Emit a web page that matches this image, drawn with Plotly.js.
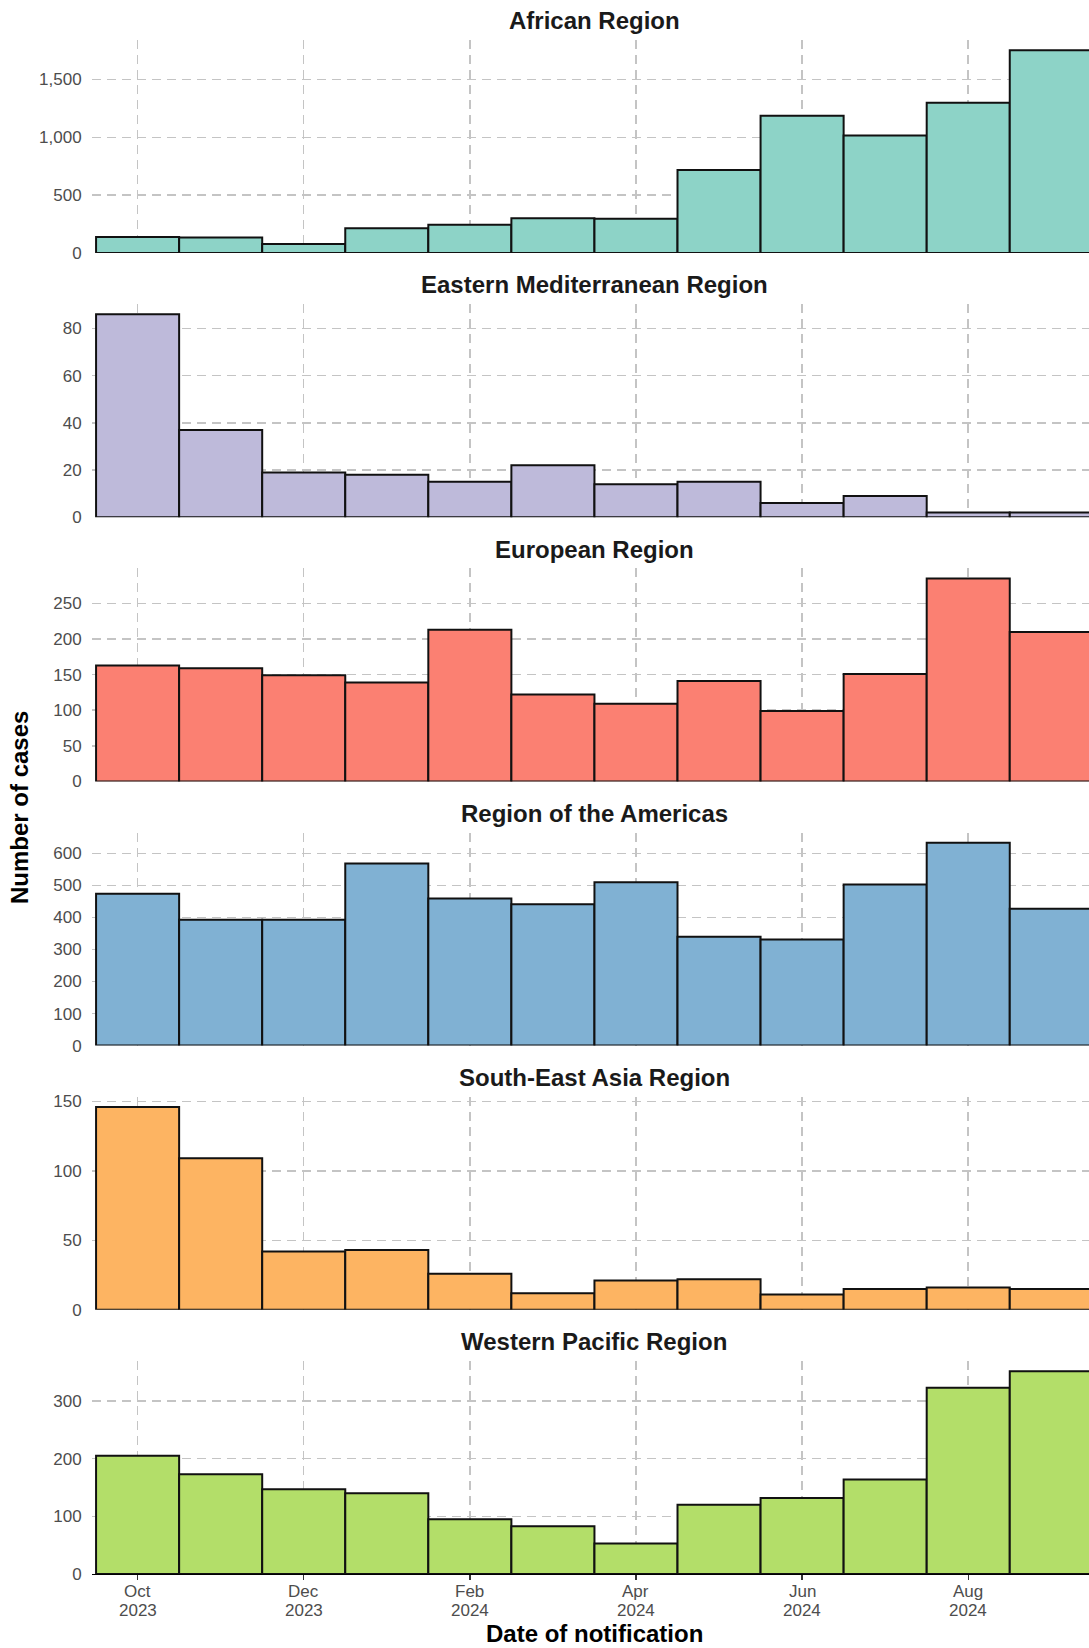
<!DOCTYPE html>
<html>
<head>
<meta charset="utf-8">
<script src="https://cdn.plot.ly/plotly-3.0.1.min.js"></script>
<style>
  html, body { margin: 0; padding: 0; background: #ffffff; }
  #chart { width: 1089px; height: 1648px; }
</style>
</head>
<body>
<div id="chart"></div>
<script>
// ---- Data ----
const months = ['Oct 2023','Nov 2023','Dec 2023','Jan 2024','Feb 2024','Mar 2024','Apr 2024','May 2024','Jun 2024','Jul 2024','Aug 2024','Sep 2024'];
const tickMonths = ['Oct 2023','Dec 2023','Feb 2024','Apr 2024','Jun 2024','Aug 2024'];
const tickMonthLabels = ['Oct','Dec','Feb','Apr','Jun','Aug'];
const tickYearLabels = ['2023','2023','2024','2024','2024','2024'];
const regions = ['African Region','Eastern Mediterranean Region','European Region','Region of the Americas','South-East Asia Region','Western Pacific Region'];

const african        = [138, 133, 78, 214, 245, 300, 297, 717, 1187, 1017, 1299, 1754];
const easternMed     = [86, 37, 19, 18, 15, 22, 14, 15, 6, 9, 2, 2];
const european       = [163, 159, 149, 139, 213, 122, 109, 141, 99, 151, 285, 210];
const americas       = [474, 393, 393, 568, 459, 441, 510, 340, 331, 503, 633, 427];
const seAsia         = [146, 109, 42, 43, 26, 12, 21, 22, 11, 15, 16, 15];
const westernPacific = [205, 173, 147, 140, 95, 83, 53, 120, 132, 164, 323, 352];

const series = [african, easternMed, european, americas, seAsia, westernPacific];
const colors = ['#8DD3C7', '#BEBADA', '#FB8072', '#80B1D3', '#FDB462', '#B3DE69'];
const yDticks = [500, 20, 50, 100, 50, 100];

// ---- Layout geometry (pixels) ----
const W = 1089, H = 1648, L = 92;
const panelTop0 = 40, panelStep = 264.2, panelH = 213;
const titleOffset = -19.3;

const font = 'Liberation Sans, Arial, Helvetica, sans-serif';
const gridColor = '#c4c4c4';

const traces = [];
const layout = {
  width: W, height: H,
  margin: {l: L, r: 0, t: 0, b: 0, pad: 0},
  paper_bgcolor: '#ffffff', plot_bgcolor: '#ffffff',
  showlegend: false,
  bargap: 0,
  font: {family: font, color: '#4d4d4d', size: 17},
  annotations: []
};

const xCenterPaper = (594 - L) / (W - L);
const nPanels = series.length;

series.forEach((vals, i) => {
  const xs = i === 0 ? 'x' : 'x' + (i + 1);
  const ys = i === 0 ? 'y' : 'y' + (i + 1);
  traces.push({
    type: 'bar', x: months, y: vals, xaxis: xs, yaxis: ys,
    width: 1,
    marker: {color: colors[i], line: {color: '#111111', width: 2}},
    hoverinfo: 'skip'
  });
  const top = panelTop0 + panelStep * i;
  const bottom = top + panelH;
  const isLast = i === nPanels - 1;
  layout['xaxis' + (i === 0 ? '' : i + 1)] = {
    type: 'category', categoryorder: 'array', categoryarray: months,
    range: [-0.549, 11.454], anchor: ys, domain: [0, 1],
    tickmode: 'array', tickvals: tickMonths, ticktext: tickMonthLabels,
    showticklabels: false,
    ticks: isLast ? 'outside' : '', ticklen: 5, tickwidth: 1.3, tickcolor: '#333333',
    showline: isLast, linecolor: '#000000', linewidth: 1.3,
    showgrid: true, gridcolor: gridColor, gridwidth: 1.5, griddash: '9px,6px',
    zeroline: false, fixedrange: true
  };
  const maxV = Math.max(...vals);
  layout['yaxis' + (i === 0 ? '' : i + 1)] = {
    anchor: xs,
    domain: [(H - bottom) / H, (H - top) / H],
    range: [0, maxV * 1.05],
    dtick: yDticks[i], tick0: 0, tickformat: ',d',
    tickfont: {family: font, size: 17, color: '#4d4d4d'},
    ticks: 'outside', ticklen: 6, tickcolor: 'rgba(0,0,0,0)',
    showline: false,
    showgrid: true, gridcolor: gridColor, gridwidth: 1.5, griddash: '9px,6px',
    zeroline: false, fixedrange: true
  };
  layout.annotations.push({
    text: '<b>' + regions[i] + '</b>',
    xref: 'paper', yref: 'paper',
    x: xCenterPaper, y: (H - (top + titleOffset)) / H,
    xanchor: 'center', yanchor: 'middle', showarrow: false,
    font: {family: font, size: 24, color: '#1a1a1a'}
  });
});

// Bottom x tick labels (month line and year line)
const lastX = 'x' + nPanels;
const monthLabelY = 1591, yearLabelY = 1610;
tickMonths.forEach((m, k) => {
  const idx = months.indexOf(m);
  layout.annotations.push({
    text: tickMonthLabels[k], xref: lastX, yref: 'paper',
    x: idx, y: (H - monthLabelY) / H, xanchor: 'center', yanchor: 'middle',
    showarrow: false, font: {family: font, size: 17, color: '#4d4d4d'}
  });
  layout.annotations.push({
    text: tickYearLabels[k], xref: lastX, yref: 'paper',
    x: idx, y: (H - yearLabelY) / H, xanchor: 'center', yanchor: 'middle',
    showarrow: false, font: {family: font, size: 17, color: '#4d4d4d'}
  });
});

layout.annotations.push({
  text: '<b>Number of cases</b>',
  xref: 'paper', yref: 'paper',
  x: (19 - L) / (W - L), y: (H - 808) / H,
  xanchor: 'center', yanchor: 'middle', textangle: -90, showarrow: false,
  font: {family: font, size: 24, color: '#000000'}
});
layout.annotations.push({
  text: '<b>Date of notification</b>',
  xref: 'paper', yref: 'paper',
  x: xCenterPaper, y: (H - 1633) / H,
  xanchor: 'center', yanchor: 'middle', showarrow: false,
  font: {family: font, size: 24, color: '#000000'}
});

Plotly.newPlot('chart', traces, layout, {displayModeBar: false, staticPlot: true});
</script>
</body>
</html>
